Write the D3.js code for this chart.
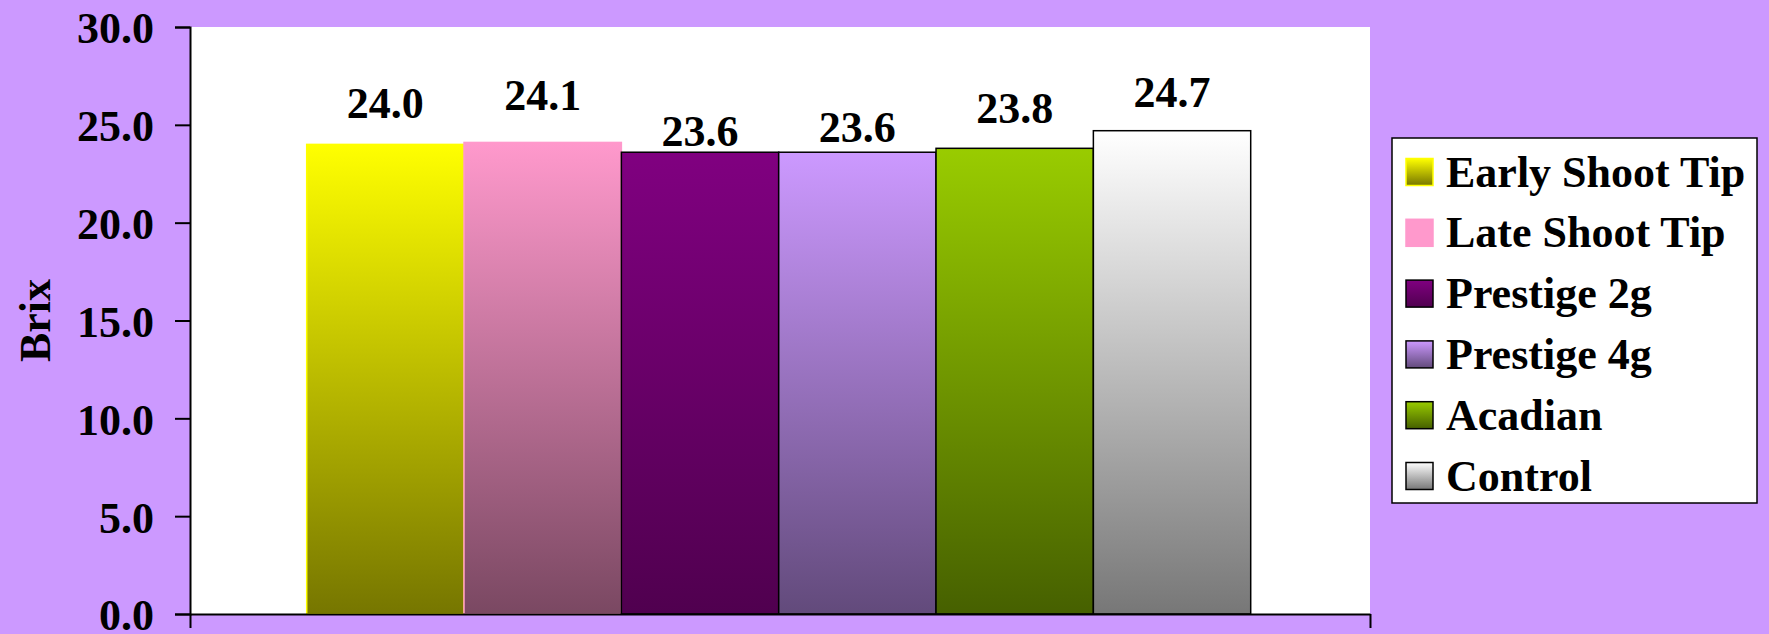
<!DOCTYPE html>
<html>
<head>
<meta charset="utf-8">
<script src="https://cdn.jsdelivr.net/npm/d3@7"></script>
<style>
  html, body { margin: 0; padding: 0; background: #CC99FF; }
  svg { display: block; }
  text { font-family: "Liberation Serif", "Times New Roman", Times, serif; font-weight: bold; fill: #000; }
</style>
</head>
<body>
<svg id="chart" width="1769" height="634"></svg>
<script>
// Brix reading per treatment
const series = ["Early Shoot Tip", "Late Shoot Tip", "Prestige 2g", "Prestige 4g", "Acadian", "Control"];
const brix = [24.0, 24.1, 23.6, 23.6, 23.8, 24.7];
const yTicks = [0, 5, 10, 15, 20, 25, 30];

// Fill (top of gradient), shaded bottom of gradient and outline per treatment
const fills = ["#FFFF00", "#FF99CC", "#800080", "#CC99FF", "#99CC00", "#FFFFFF"];
const shades = ["#767600", "#7A4862", "#50004F", "#624A7B", "#466000", "#777777"];
const outlines = ["#FFFF00", "#FF99CC", "#000000", "#000000", "#000000", "#000000"];
// Legend key for the late shoot tip is a flat fill
const flatKey = [false, true, false, false, false, false];
// Distance of each value label above its bar (px)
const labelLift = [26, 32, 6, 10, 25, 24];

const plot = { left: 190, right: 1370, top: 27, bottom: 614 };
const FONT = 44;

const svg = d3.select("#chart");

const defs = svg.append("defs");
fills.forEach((c, i) => {
  const g = defs.append("linearGradient")
    .attr("id", "grad" + i)
    .attr("x1", 0).attr("y1", 0).attr("x2", 0).attr("y2", 1);
  g.append("stop").attr("offset", "0%").attr("stop-color", c);
  g.append("stop").attr("offset", "100%").attr("stop-color", shades[i]);
});

// plot area
svg.append("rect")
  .attr("x", plot.left).attr("y", plot.top)
  .attr("width", plot.right - plot.left).attr("height", plot.bottom - plot.top)
  .attr("fill", "#FFFFFF");

const y = d3.scaleLinear().domain([0, 30]).range([plot.bottom, plot.top]);

// one category: bars grouped in the middle with a 150% gap
const catWidth = plot.right - plot.left;
const barW = catWidth / (series.length + 1.5);
const groupLeft = plot.left + (catWidth - barW * series.length) / 2 - 1.3;
const x = d3.scaleBand()
  .domain(series)
  .range([groupLeft, groupLeft + barW * series.length])
  .padding(0);

// bars
svg.append("g").selectAll("rect")
  .data(series)
  .join("rect")
  .attr("x", d => x(d))
  .attr("y", (d, i) => y(brix[i]))
  .attr("width", x.bandwidth())
  .attr("height", (d, i) => y(0) - y(brix[i]))
  .attr("fill", (d, i) => `url(#grad${i})`)
  .attr("stroke", (d, i) => outlines[i])
  .attr("stroke-width", 1.5);

// value labels
svg.append("g").selectAll("text")
  .data(series)
  .join("text")
  .attr("x", d => x(d) + x.bandwidth() / 2)
  .attr("y", (d, i) => y(brix[i]) - labelLift[i])
  .attr("text-anchor", "middle")
  .attr("font-size", FONT)
  .text((d, i) => d3.format(".1f")(brix[i]));

// y axis
const yAxis = svg.append("g")
  .attr("transform", `translate(${plot.left},0)`)
  .call(d3.axisLeft(y).tickValues(yTicks).tickFormat(d3.format(".1f")).tickSize(15).tickPadding(21));
yAxis.select(".domain").attr("stroke", "#000").attr("stroke-width", 2);
yAxis.selectAll(".tick line").attr("stroke", "#000").attr("stroke-width", 2);
yAxis.selectAll(".tick text")
  .attr("font-size", FONT)
  .attr("font-family", null)
  .attr("dy", "0.36em");

// x axis: single category with tick marks at both ends
const xEdge = d3.scaleLinear().domain([0, 1]).range([plot.left, plot.right]);
const xAxis = svg.append("g")
  .attr("transform", `translate(0,${plot.bottom})`)
  .call(d3.axisBottom(xEdge).tickValues([0, 1]).tickFormat("").tickSize(14).tickSizeOuter(0));
xAxis.select(".domain").attr("stroke", "#000").attr("stroke-width", 2);
xAxis.selectAll(".tick line").attr("stroke", "#000").attr("stroke-width", 2);

// axis title
svg.append("text")
  .attr("transform", `translate(50,${(plot.top + plot.bottom) / 2}) rotate(-90)`)
  .attr("text-anchor", "middle")
  .attr("font-size", FONT)
  .text("Brix");

// legend
const lg = { x: 1392, y: 138, w: 365, h: 365, row: 60.8, sw: 27, firstTop: 158.5, textX: 1446, swX: 1406 };
const legend = svg.append("g");
legend.append("rect")
  .attr("x", lg.x).attr("y", lg.y).attr("width", lg.w).attr("height", lg.h)
  .attr("fill", "#FFFFFF").attr("stroke", "#000").attr("stroke-width", 1.5);
const rows = legend.selectAll("g.row")
  .data(series)
  .join("g")
  .attr("class", "row")
  .attr("transform", (d, i) => `translate(0,${lg.firstTop + i * lg.row})`);
rows.append("rect")
  .attr("x", lg.swX).attr("y", 0).attr("width", lg.sw).attr("height", lg.sw)
  .attr("fill", (d, i) => flatKey[i] ? fills[i] : `url(#grad${i})`)
  .attr("stroke", (d, i) => outlines[i])
  .attr("stroke-width", 1.5);
rows.append("text")
  .attr("x", lg.textX).attr("y", lg.sw + 1)
  .attr("font-size", FONT)
  .text(d => d);
</script>
</body>
</html>
